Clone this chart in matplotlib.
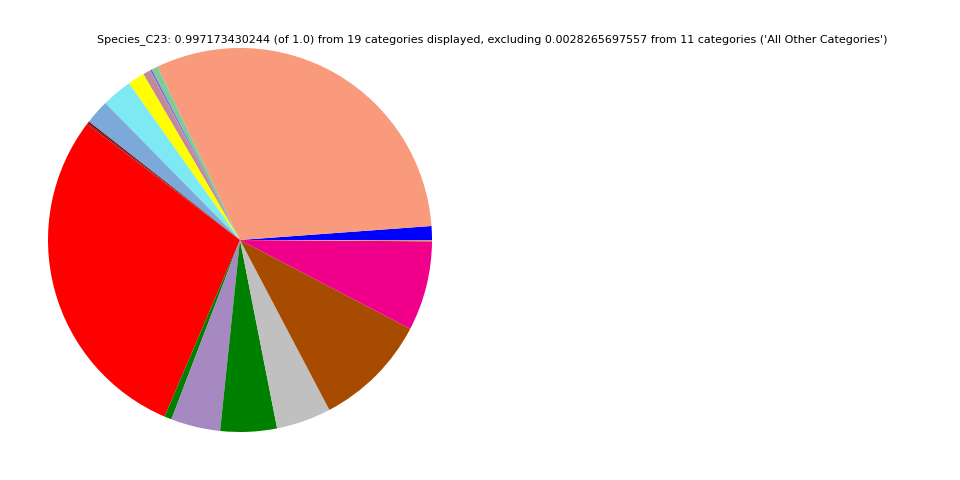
import matplotlib
matplotlib.use("Agg")
import matplotlib.pyplot as plt

categories = ["C01", "C02", "C03", "C04", "C05", "C06", "C07", "C08", "C09", "C10",
              "C11", "C12", "C13", "C14", "C15", "C16", "C17", "C18", "C19"]
values = [0.0116, 0.3083, 0.0055, 0.0011, 0.0006, 0.0061, 0.0141, 0.0255, 0.0205,
          0.0014, 0.0011, 0.2883, 0.0061, 0.0415, 0.0474, 0.0460, 0.0961, 0.0753, 0.0011]
colors = ["#0000ff", "#f89a7b", "#7fc99b", "#6a4fe0", "#9a70c0", "#c08a9a", "#ffff00",
          "#7de9f2", "#7ca9d9", "#8b0000", "#5a1a1a", "#ff0000", "#008000", "#a689c0",
          "#008000", "#c0c0c0", "#a64b00", "#f0008a", "#c8a070"]
title = ("Species_C23: 0.997173430244 (of 1.0) from 19 categories displayed, excluding "
         "0.0028265697557 from 11 categories ('All Other Categories')")

fig = plt.figure(figsize=(9.6, 4.8), dpi=100)
ax = fig.add_axes([0, 0, 0.5, 1])
ax.pie(values, colors=colors, startangle=0, counterclock=True)
ax.set_aspect("equal")
fig.text(492 / 960, 1 - 40 / 480, title, ha="center", va="center", fontsize=8)
fig.savefig("out.png", dpi=100)
